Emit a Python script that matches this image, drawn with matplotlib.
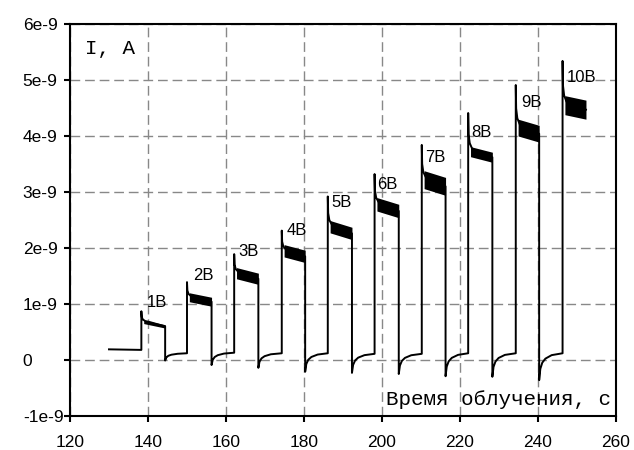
import numpy as np
import matplotlib.pyplot as plt

# данные (ток в единицах 1e-9 А)
t_start = 130.0
base_start = 0.19
t_on = [138.3, 150.0, 162.1, 174.3, 186.1, 198.1, 210.2, 222.1, 234.3, 246.3]
t_off = [144.4, 156.3, 168.3, 180.3, 192.3, 204.3, 216.3, 228.3, 240.3, 252.3]
i_peak = [0.87, 1.39, 1.89, 2.31, 2.92, 3.32, 3.84, 4.41, 4.91, 5.34]
plat_start = [0.68, 1.12, 1.55, 1.95, 2.38, 2.78, 3.22, 3.72, 4.15, 4.55]
plat_end = [0.60, 1.04, 1.45, 1.85, 2.26, 2.66, 3.10, 3.62, 4.04, 4.47]
plat_noise = [0.03, 0.08, 0.10, 0.11, 0.11, 0.12, 0.16, 0.09, 0.15, 0.17]
i_dip = [-0.01, -0.09, -0.14, -0.21, -0.23, -0.25, -0.29, -0.30, -0.36]
i_base = [0.12, 0.13, 0.12, 0.12, 0.11, 0.11, 0.12, 0.12, 0.12]

labels = ["1В", "2В", "3В", "4В", "5В", "6В", "7В", "8В", "9В", "10В"]
label_t = [139.7, 151.6, 163.2, 175.5, 187.0, 198.8, 211.0, 223.0, 235.6, 247.4]
label_i = [1.02, 1.51, 1.94, 2.32, 2.81, 3.13, 3.62, 4.06, 4.59, 5.05]

y_ticks = [-1, 0, 1, 2, 3, 4, 5, 6]
y_tick_labels = ["-1e-9", "0", "1e-9", "2e-9", "3e-9", "4e-9", "5e-9", "6e-9"]

# форма спада после включения и восстановления после выключения
decay_dt = [0, 0.1, 0.4, 1.0, 2.0]
decay_frac = [1, 0.45, 0.22, 0.08, 0]
recov_dt = [0, 0.3, 0.8, 1.6, 3.2]
recov_frac = [0, 0.42, 0.65, 0.8, 0.93]

t = [t_start, t_on[0]]
cur = [base_start, base_start - 0.01]
n = len(t_on)
for k in range(n):
    for dt, f in zip(decay_dt, decay_frac):
        t.append(t_on[k] + dt)
        cur.append(plat_start[k] + f * (i_peak[k] - plat_start[k]))
    t.append(t_off[k])
    cur.append(plat_end[k])
    if k < n - 1:
        for dt, f in zip(recov_dt, recov_frac):
            t.append(t_off[k] + dt)
            cur.append(i_dip[k] + f * (i_base[k] - i_dip[k]))
        t.append(t_on[k + 1])
        cur.append(i_base[k])

plt.rcParams["font.family"] = ["Liberation Sans", "DejaVu Sans"]
fig = plt.figure(figsize=(6.34, 4.5), dpi=100)
ax = fig.add_axes([0.1104, 0.0756, 0.8612, 0.8711])

ax.plot(t, cur, color="black", lw=1.4, zorder=3)
for k in range(n):
    ax.fill_between([t_on[k] + 0.6, t_off[k]],
                    [plat_start[k] - plat_noise[k], plat_end[k] - plat_noise[k]],
                    [plat_start[k] + plat_noise[k], plat_end[k] + plat_noise[k]],
                    color="black", lw=0, zorder=3)
    ax.text(label_t[k], label_i[k], labels[k], fontsize=12, ha="left", va="center", zorder=4)

ax.set_xlim(120, 260)
ax.set_ylim(-1, 6)
ax.set_xticks(np.arange(120, 261, 20))
ax.set_yticks(y_ticks)
ax.set_yticklabels(y_tick_labels)
ax.grid(True, color="#888888", lw=1, linestyle=(0, (7, 3.5)))
ax.set_axisbelow(True)

for s in ax.spines.values():
    s.set_linewidth(1.5)
ax.tick_params(axis="both", direction="out", length=4, width=1.5, labelsize=12.5)
ax.tick_params(axis="x", pad=10)
ax.tick_params(axis="y", pad=30)
for lbl in ax.get_yticklabels():
    lbl.set_horizontalalignment("left")

ax.text(0.027, 0.962, "I, A", transform=ax.transAxes, family="Liberation Mono",
        fontsize=15, ha="left", va="top")
ax.text(0.99, 0.028, "Время облучения, с", transform=ax.transAxes, family="Liberation Mono",
        fontsize=15, ha="right", va="baseline")

fig.savefig("out.png", dpi=100)
